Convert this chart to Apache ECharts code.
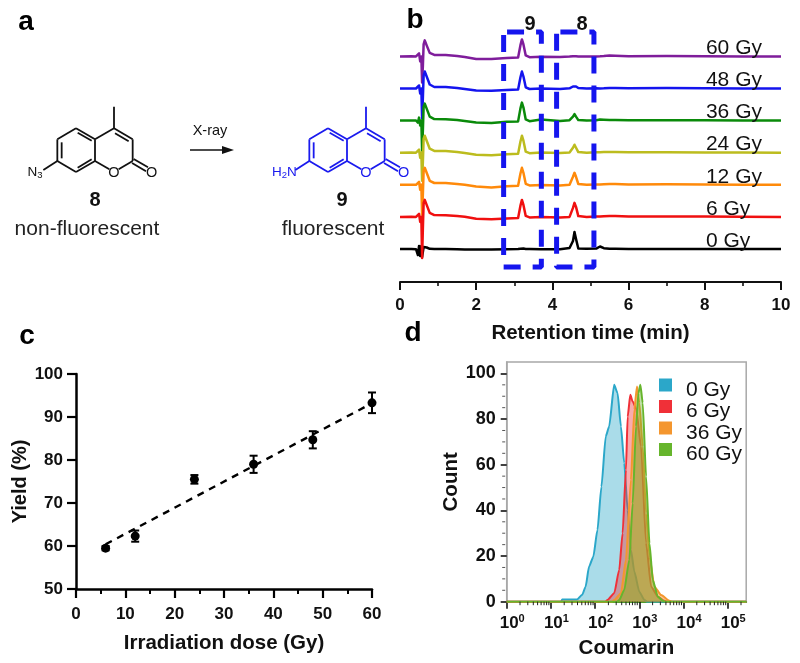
<!DOCTYPE html>
<html><head><meta charset="utf-8">
<style>html,body{margin:0;padding:0;background:#fff}#c{width:800px;height:663px}</style>
<script src="https://cdn.jsdelivr.net/npm/echarts@6/dist/echarts.min.js"></script>
</head><body><div id="c"></div>
<script>
// ---------- panel b: HPLC traces ----------
const retentionTime = [0,.3,.42,.47,.5,.53,.56,.58,.6,.62,.65,.7,.78,.9,1.2,1.5,1.7,2,2.4,2.8,3.1,3.16,3.2,3.24,3.3,3.4,3.7,4.2,4.45,4.54,4.58,4.62,4.68,4.9,5.15,5.25,5.35,5.5,5.55,5.65,6,7,8,9,10];
const trace0  = [0,-.1,-.2,-6,3,-7,3,-8,-3,2,3,1.5,.2,0,-.1,-.3,-.4,-.6,-.5,-.3,-.1,.2,1,.4,0,-.1,-.2,-.2,1,8,17,10,.5,.2,.4,2.5,.8,.2,1,.2,0,0,.1,0,0];
const trace6  = [0,.2,0,-2,3,-5,.2,-41,-12,14,17,12,4,1.8,1.6,.9,.2,-1.8,-2.4,-1.7,-1,11,17,12,1,-.5,-.2,-.6,0,9,14,10,.8,0,.3,.4,.7,.9,2,.8,.3,.5,.3,.1,0];
const trace12 = [0,.1,0,-2,3,-5,.2,-30,-10,14,17,12,4,1.8,1.8,.9,0,-1.8,-2.6,-1.5,-1,11,17,12,1,-.6,-.1,-.7,0,8,12,8,.8,0,.4,.4,.6,.9,2.2,.7,.4,.5,.3,.1,0];
const trace24 = [0,.1,0,-2,3,-5,.2,-28,-10,14,17,12,4,1.8,1.6,.7,-.3,-2,-2.5,-1.5,-1,11,17,12,1,-.5,.2,-.4,.2,5,8,5,.6,0,.4,.5,.6,.8,2,.7,.4,.5,.3,.1,0];
const trace36 = [0,.2,.1,-2,3,-5,.2,-30,-10,14,17,12,4,1.5,1.3,.5,-.5,-2,-2.4,-1.2,-.8,12,18,13,1.2,-.6,1,-.4,.4,4,6.5,4,.5,0,.3,1,.8,.6,2,.6,.3,.4,.3,.1,0];
const trace48 = [0,.1,0,-1.5,3,-5,0,-30,-10,13,17,12,4,1.5,1.5,.6,-.4,-2,-2.3,-1.5,-1,11,17,12,1.2,-.5,0,-.4,.2,2,3.5,2,.5,0,.2,.1,.2,.6,1.8,.5,.2,.5,.3,.1,0];
const trace60 = [0,.2,0,-1.5,3,-5,0,-26,-10,12,16,11,3.5,1.5,1.5,.5,-.5,-2.5,-2.5,-1.5,-1,11,17,12,1,-.8,-.3,-.6,-.2,.2,.4,.2,0,-.2,0,.1,.3,.8,2,.6,.2,.4,.2,0,0];
const traceLabels = ['0 Gy','6 Gy','12 Gy','24 Gy','36 Gy','48 Gy','60 Gy'];
const traceColors = ['#000000','#f01010','#ff8a0a','#bcbc1e','#0a8a0a','#1414ee','#7f1d9b'];
const traceValues = [trace0,trace6,trace12,trace24,trace36,trace48,trace60];
const traceStep = 32.1;
const box9T = [2.81,3.71,3.71,2.72,2.72,2.81];
const box9V = [217,217,-18,-18,217,217];
const box8T = [4.21,5.09,5.09,4.11,4.11,4.21];
const box8V = [217,217,-18,-18,217,217];

// ---------- panel c: yield ----------
const doses = [6,12,24,36,48,60];
const yieldMean = [59.5,62.3,75.5,79,84.7,93.3];
const yieldErr = [0.5,1.3,1,2,2,2.4];
const trendDose = [6,60];
const trendYield = [60.4,93.2];

// ---------- panel d: flow cytometry ----------
const hist0X = [1,17,18,39,51,61,73,91,113,139,174,208,270,322,384,456,545,647,772,1000,1306,1500,262144];
const hist0Y = [0,0,1,1,3,6.6,15.4,19.7,31.4,50.4,72.4,76.8,95,91.4,76.8,60.7,40.2,22.7,13.2,4.4,.7,0,0];
const hist6X = [1,170,190,270,351,419,498,545,626,708,843,1096,1424,1855,2625,3740,4200,262144];
const hist6Y = [0,0,.7,3.7,13.9,30,57.7,81,90.6,87.7,84.8,68,25.6,6.6,2.2,.4,0,0];
const hist36X = [1,240,270,384,498,647,772,887,1000,1195,1424,1698,2205,3125,4842,5400,262144];
const hist36Y = [0,0,.7,3.7,18.3,53.4,84.2,94.3,87,68,38.7,19.7,6.6,2.9,.4,0,0];
const hist60X = [1,310,351,456,594,708,843,955,1057,1195,1424,1698,2018,2625,3415,3800,262144];
const hist60Y = [0,0,.7,5.1,18.3,43.1,76.8,91.4,95,87,54.8,25.6,9.5,2.2,.4,0,0];
const countMinor = [5,10,15,25,30,35,45,50,55,65,70,75,85,90,95];
const coumarinMajor = [1,10,100,1000,10000,100000];
const coumarinMinor = [2,3,4,5,6,7,8,9,20,30,40,50,60,70,80,90,200,300,400,500,600,700,800,900,2000,3000,4000,5000,6000,7000,8000,9000,20000,30000,40000,50000,60000,70000,80000,90000,200000];
const histNames = ['0 Gy','6 Gy','36 Gy','60 Gy'];
const histColors = ['#2ba7c9','#f03038','#f4962e','#66b52c'];
const histAreaOpacity = [.4,.4,.5,.4];

const FONT = '"Liberation Sans", Arial, sans-serif';
const INK = '#111';

// ---------- panel a: structures (schematic, drawn as graphics) ----------
function structure(dx, color, subst){
  const segs = [
    [228,385,285,418],[285,418,285,483],[285,483,228,516],[228,516,172,483],[172,483,172,418],[172,418,228,385],
    [233,398,275,422],[185,427,185,475],[233,503,275,478],
    [285,418,342,385],[342,385,398,418],[398,418,398,483],[345,400,386,424],
    [342,385,342,320],[285,483,328,508],[398,483,356,508],
    [401,477,444,502],[396,489,438,514],[172,483,130,510]
  ];
  const els = segs.map(s=>({type:'line',shape:{x1:(s[0]+dx)/3,y1:s[1]/3,x2:(s[2]+dx)/3,y2:s[3]/3},
    style:{stroke:color,lineWidth:1.8},z:20}));
  els.push(gText((342+dx)/3,172.5,'O',14.5,color,false,'center'));
  els.push(gText((455+dx)/3,172.5,'O',14.5,color,false,'center'));
  els.push(subst);
  return els;
}
function gText(x,y,text,size,color,bold,align,extra){
  return {type:'text',x:x,y:y,z:30,style:Object.assign({text:text,font:(bold?'bold ':'')+size+'px '+FONT,
    fill:color||INK,textAlign:align||'center',textVerticalAlign:'middle'},extra||{})};
}
const blue='#1a1aee';
const n3 = {type:'text',x:27.5,y:172.5,z:30,style:{text:'{m|N}{s|3}',fill:INK,textVerticalAlign:'middle',textAlign:'left',
  rich:{m:{font:'13.5px '+FONT,fill:INK},s:{font:'9.5px '+FONT,fill:INK,padding:[6,0,0,0]}}}};
const h2n = {type:'text',x:272,y:172.5,z:30,style:{text:'{m|H}{s|2}{m|N}',fill:blue,textVerticalAlign:'middle',textAlign:'left',
  rich:{m:{font:'13.5px '+FONT,fill:blue},s:{font:'9.5px '+FONT,fill:blue,padding:[6,0,0,0]}}}};

const graphics = [].concat(
  structure(0,'#111',n3), structure(756,blue,h2n),
  [
    {type:'line',shape:{x1:190,y1:150,x2:226,y2:150},style:{stroke:'#111',lineWidth:1.6},z:20},
    {type:'polygon',shape:{points:[[222,146],[234,150],[222,154]]},style:{fill:'#111'},z:20},
    gText(210,131,'X-ray',14.5),
    gText(95,200,'8',20,INK,true), gText(87,229,'non-fluorescent',21,'#222'),
    gText(342,200,'9',20,INK,true), gText(333,229,'fluorescent',21,'#222'),
    gText(26,22,'a',28,'#000',true), gText(415,20,'b',28,'#000',true),
    gText(27,336,'c',28,'#000',true), gText(413,333,'d',28,'#000',true),
    gText(530,24,'9',20,'#111',true), gText(582,24,'8',20,'#111',true)
  ]
);

// ---------- series ----------
const series = [];
const drawOrder = [0,6,5,4,3,2,1];
drawOrder.forEach(k=>{
  series.push({name:'Trace '+traceLabels[k],type:'line',xAxisIndex:0,yAxisIndex:0,symbol:'none',silent:true,
    data:retentionTime.map((t,i)=>[t,traceValues[k][i]+k*traceStep]),
    lineStyle:{color:traceColors[k],width:2.5,join:'round'},z:2});
});
[[box9T,box9V],[box8T,box8V]].forEach(b=>{
  series.push({type:'line',xAxisIndex:0,yAxisIndex:0,symbol:'none',silent:true,
    data:b[0].map((t,i)=>[t,b[1][i]]),
    lineStyle:{color:'#1515ee',width:5,type:[17,12],cap:'butt'},z:3});
});
series.push({type:'scatter',xAxisIndex:0,yAxisIndex:0,symbolSize:0,silent:true,z:4,
  itemStyle:{opacity:1},
  data:traceLabels.map((l,k)=>({value:[8.03,k*traceStep+8],label:{formatter:l}})),
  label:{show:true,position:'right',distance:0,color:'#111',fontSize:21,fontFamily:FONT}});

// panel c
series.push({type:'line',xAxisIndex:1,yAxisIndex:1,symbol:'none',silent:true,
  data:trendDose.map((d,i)=>[d,trendYield[i]]),
  lineStyle:{color:'#000',width:2.4,type:[7,6]},z:2});
series.push({type:'scatter',xAxisIndex:1,yAxisIndex:1,symbol:'circle',symbolSize:9,silent:true,
  data:doses.map((d,i)=>[d,yieldMean[i]]),itemStyle:{color:'#000',opacity:1},z:4});
series.push({type:'custom',xAxisIndex:1,yAxisIndex:1,silent:true,z:3,
  data:doses.map((d,i)=>[d,yieldMean[i]-yieldErr[i],yieldMean[i]+yieldErr[i]]),
  renderItem(params,api){
    const lo=api.coord([api.value(0),api.value(1)]), hi=api.coord([api.value(0),api.value(2)]);
    const st={stroke:'#000',lineWidth:2};
    return {type:'group',children:[
      {type:'line',shape:{x1:lo[0],y1:lo[1],x2:hi[0],y2:hi[1]},style:st},
      {type:'line',shape:{x1:lo[0]-4,y1:lo[1],x2:lo[0]+4,y2:lo[1]},style:st},
      {type:'line',shape:{x1:hi[0]-4,y1:hi[1],x2:hi[0]+4,y2:hi[1]},style:st}
    ]};
  },encode:{x:0,y:[1,2]}});

// panel d
[[hist0X,hist0Y],[hist6X,hist6Y],[hist36X,hist36Y],[hist60X,hist60Y]].forEach((h,i)=>{
  series.push({name:histNames[i],type:'line',xAxisIndex:2,yAxisIndex:2,symbol:'none',silent:true,smooth:0.2,
    smoothMonotone:'x',
    data:h[0].map((x,j)=>[x,h[1][j]]),
    itemStyle:{color:histColors[i]},
    lineStyle:{color:histColors[i],width:2},
    areaStyle:{color:histColors[i],opacity:histAreaOpacity[i]},z:2+i});
});
series.push({type:'custom',xAxisIndex:2,yAxisIndex:2,silent:true,z:6,clip:false,
  data:coumarinMinor.map(v=>[v,0]),
  renderItem(params,api){
    const p=api.coord([api.value(0),0]);
    return {type:'line',shape:{x1:p[0],y1:p[1],x2:p[0],y2:p[1]+3.5},style:{stroke:'#222',lineWidth:1}};
  }});
series.push({type:'custom',xAxisIndex:2,yAxisIndex:2,silent:true,z:6,clip:false,
  data:countMinor.map(v=>[1,v]),
  renderItem(params,api){
    const p=api.coord([1,api.value(1)]);
    return {type:'line',shape:{x1:p[0]-1.5,y1:p[1],x2:p[0]-4.5,y2:p[1]},style:{stroke:'#555',lineWidth:1}};
  }});

const boldLabel = s=>({color:INK,fontFamily:FONT,fontWeight:'bold',fontSize:s});

const option = {
  animation:false,backgroundColor:'#fff',
  graphic:{elements:graphics},
  legend:{show:true,orient:'vertical',left:659,top:369.5,padding:0,itemWidth:13,itemHeight:13,itemGap:-9.5,icon:'rect',selectedMode:false,
    data:histNames,formatter:'{t|{name}}',
    textStyle:{rich:{t:{color:'#111',fontSize:21,fontFamily:FONT,padding:[10,0,0,9],lineHeight:11.5}}}},
  grid:[
    {left:400,top:10,width:381,height:272},
    {left:76,top:374,width:296,height:215},
    {left:506.7,top:362,width:239.5,height:239.7,show:true,borderColor:'#a8a8a8',borderWidth:1.5,backgroundColor:'transparent'}
  ],
  xAxis:[
    {gridIndex:0,type:'value',min:0,max:10,interval:2,splitLine:{show:false},
     axisLine:{onZero:false,lineStyle:{color:'#111',width:2}},axisTick:{length:8,lineStyle:{color:'#111',width:2}},
     minorTick:{show:true,splitNumber:2,length:4,lineStyle:{color:'#111',width:1.6}},minorSplitLine:{show:false},
     axisLabel:Object.assign(boldLabel(17),{margin:15}),
     name:'Retention time (min)',nameLocation:'middle',nameGap:41,nameTextStyle:boldLabel(20.5)},
    {gridIndex:1,type:'value',min:0,max:60,interval:10,splitLine:{show:false},
     axisLine:{lineStyle:{color:'#000',width:2.5}},axisTick:{length:9,lineStyle:{color:'#000',width:2.2}},
     minorTick:{show:true,splitNumber:2,length:5,lineStyle:{color:'#000',width:2}},
     axisLabel:Object.assign(boldLabel(17),{margin:17}),
     name:'Irradiation dose (Gy)',nameLocation:'middle',nameGap:44,nameTextStyle:boldLabel(20.5)},
    {gridIndex:2,type:'log',logBase:10,min:1,max:262144,splitLine:{show:false},
     axisLine:{lineStyle:{color:'#4f9a2a',width:2}},
     axisTick:{length:7,lineStyle:{color:'#111',width:1.6},customValues:coumarinMajor},
     axisLabel:{customValues:coumarinMajor,margin:12,padding:[0,0,0,11],fontFamily:FONT,
       formatter:v=>'{b|10}{s|'+Math.round(Math.log10(v))+'}',
       rich:{b:{fontFamily:FONT,fontSize:17,fontWeight:'bold',color:INK},
             s:{fontFamily:FONT,fontSize:11,fontWeight:'bold',color:INK,padding:[0,0,8,0]}}},
     name:'Coumarin',nameLocation:'middle',nameGap:36,nameTextStyle:boldLabel(20.5)}
  ],
  yAxis:[
    {gridIndex:0,type:'value',min:-33,max:239,show:false,splitLine:{show:false}},
    {gridIndex:1,type:'value',min:50,max:100,interval:10,splitLine:{show:false},
     axisLine:{show:true,lineStyle:{color:'#000',width:2.5}},axisTick:{show:true,length:9,lineStyle:{color:'#000',width:2.2}},
     axisLabel:Object.assign(boldLabel(17),{margin:13}),
     name:'Yield (%)',nameLocation:'middle',nameRotate:90,nameGap:46,nameTextStyle:boldLabel(20)},
    {gridIndex:2,type:'value',min:0,max:105,splitLine:{show:false},
     axisLine:{show:true,lineStyle:{color:'#a8a8a8',width:1.5}},
     axisTick:{show:true,length:6,lineStyle:{color:'#111',width:1.6},customValues:[0,20,40,60,80,100]},
     axisLabel:Object.assign(boldLabel(18),{margin:11,customValues:[0,20,40,60,80,100]}),
     name:'Count',nameLocation:'middle',nameRotate:90,nameGap:41,nameTextStyle:boldLabel(20.5)}
  ],
  series:series
};
const chart = echarts.init(document.getElementById('c'),null,{renderer:'canvas',width:800,height:663});
chart.setOption(option);
</script></body></html>
